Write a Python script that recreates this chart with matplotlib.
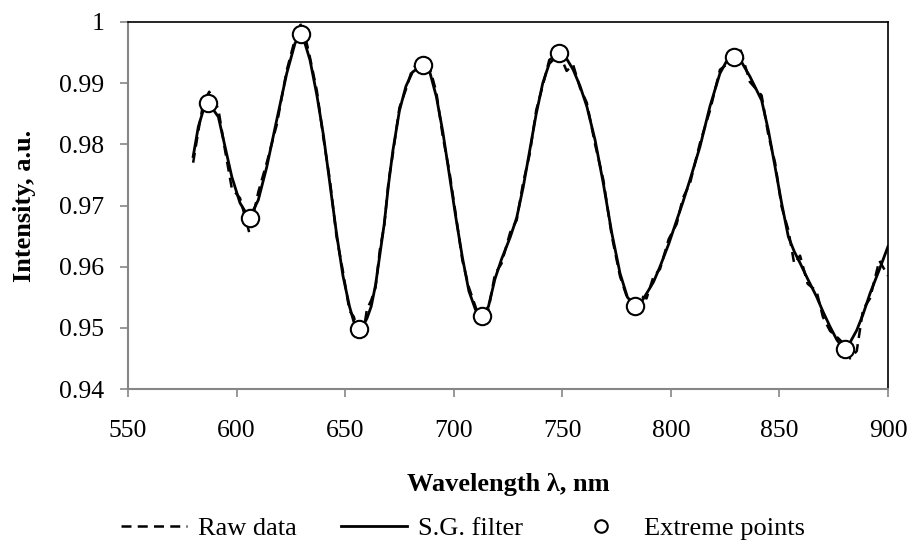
import matplotlib
matplotlib.use("Agg")
import matplotlib.pyplot as plt

# wavelength grid (nm)
wavelength = [580, 582.4, 584.7, 587.4, 591.6, 594.7, 597.8, 601.6, 605.9, 610.0,
              613.9, 618.5, 623.1, 626.9, 629.2, 631.5, 633.8, 637, 640, 643,
              646, 649, 652, 654, 656.3, 658, 660, 662, 664, 666,
              668, 670, 672, 675, 678, 681, 685.7, 689, 692, 695,
              698, 701, 704, 707, 710, 712.9, 716, 719, 722, 726,
              729, 732, 735, 738, 741, 744, 748.5, 752, 755, 758.2,
              761.3, 765.1, 768.9, 772.8, 776.6, 780, 783.8, 786, 788.8, 792,
              795, 799, 802.7, 805.5, 808.8, 813.4, 818, 822.6, 825.5, 828.8,
              832, 836.4, 841.8, 844.9, 848, 851, 854.1, 856.8, 859.5, 863,
              867.1, 870, 873.3, 876.5, 879.4, 882.5, 885.6, 888.5, 891.7, 896, 900]

raw_data = [0.9770, 0.9822, 0.9868, 0.9886, 0.9858, 0.9790, 0.9728, 0.9712, 0.9655, 0.9722,
            0.9770, 0.9832, 0.9921, 0.9972, 0.9998, 0.9978, 0.9942, 0.9887, 0.9810, 0.9741,
            0.9650, 0.9592, 0.9528, 0.9518, 0.9490, 0.9482, 0.9530, 0.9545, 0.9566, 0.9628,
            0.9667, 0.9740, 0.9785, 0.9860, 0.9890, 0.9924, 0.9938, 0.9925, 0.9885, 0.9812,
            0.9756, 0.9684, 0.9610, 0.9566, 0.9535, 0.9505, 0.9530, 0.9588, 0.9605, 0.9656,
            0.9676, 0.9738, 0.9784, 0.9856, 0.9896, 0.9938, 0.9950, 0.9920, 0.9930, 0.9892,
            0.9868, 0.9800, 0.9742, 0.9650, 0.9584, 0.9548, 0.9540, 0.9552, 0.9548, 0.9584,
            0.9596, 0.9645, 0.9670, 0.9712, 0.9736, 0.9802, 0.9855, 0.9922, 0.9930, 0.9948,
            0.9955, 0.9902, 0.9880, 0.9815, 0.9770, 0.9698, 0.9660, 0.9605, 0.9618, 0.9572,
            0.9560, 0.9518, 0.9495, 0.9485, 0.9475, 0.9450, 0.9462, 0.9530, 0.9548, 0.9610, 0.9585]

sg_filter = [0.9780, 0.9829, 0.9856, 0.9866, 0.9845, 0.9796, 0.9747, 0.9704, 0.9679, 0.9709,
             0.9763, 0.9840, 0.9916, 0.9965, 0.9979, 0.9965, 0.9938, 0.9880, 0.9815, 0.9735,
             0.9655, 0.9585, 0.9535, 0.9510, 0.9497, 0.9502, 0.9515, 0.9535, 0.9570, 0.9620,
             0.9670, 0.9735, 0.9790, 0.9855, 0.9895, 0.9918, 0.9930, 0.9918, 0.9878, 0.9820,
             0.9750, 0.9680, 0.9615, 0.9560, 0.9530, 0.9518, 0.9535, 0.9580, 0.9612, 0.9648,
             0.9680, 0.9730, 0.9790, 0.9850, 0.9900, 0.9932, 0.9948, 0.9940, 0.9922, 0.9895,
             0.9862, 0.9807, 0.9736, 0.9655, 0.9589, 0.9550, 0.9535, 0.9540, 0.9556, 0.9575,
             0.9600, 0.9637, 0.9676, 0.9705, 0.9742, 0.9796, 0.9862, 0.9916, 0.9935, 0.9943,
             0.9938, 0.9911, 0.9872, 0.9823, 0.9763, 0.9704, 0.9649, 0.9625, 0.9606, 0.9580,
             0.9551, 0.9527, 0.9502, 0.9480, 0.9467, 0.9476, 0.9496, 0.9522, 0.9556, 0.9595, 0.9633]

extreme_x = [587, 606, 629.5, 656.5, 686, 713, 748.5, 783.5, 829, 880]
extreme_y = [0.9867, 0.968, 0.998, 0.9498, 0.993, 0.952, 0.995, 0.9536, 0.9942, 0.9466]

x_ticks = [550, 600, 650, 700, 750, 800, 850, 900]
y_ticks = [0.94, 0.95, 0.96, 0.97, 0.98, 0.99, 1.0]
y_labels = ["0.94", "0.95", "0.96", "0.97", "0.98", "0.99", "1"]

plt.rcParams['font.family'] = ['Liberation Serif', 'DejaVu Serif']
TICK_FS = 18.5
LABEL_FS = 19

fig = plt.figure(figsize=(9.12, 5.41), dpi=100)
ax = fig.add_axes([128 / 912, 1 - 389 / 541, 760 / 912, 367 / 541])

ax.plot(wavelength, raw_data, color='black', lw=1.8, dashes=(4, 2.5), label='Raw data', zorder=2)
ax.plot(wavelength, sg_filter, color='black', lw=2.0, label='S.G. filter', zorder=3)
ax.plot(extreme_x, extreme_y, 'o', ms=12.5, mfc='white', mec='black', mew=1.5,
        label='Extreme points', zorder=4)

ax.set_xlim(550, 900)
ax.set_ylim(0.94, 1.0)
ax.set_xticks(x_ticks)
ax.set_yticks(y_ticks)
ax.set_yticklabels(y_labels)
ax.tick_params(direction='out', length=6, width=1.2, color='#868686',
               labelsize=TICK_FS, labelcolor='black')
ax.tick_params(axis='x', pad=16)
ax.tick_params(axis='y', pad=11)

for side in ['left', 'bottom']:
    ax.spines[side].set_color('#868686')
    ax.spines[side].set_linewidth(1.5)
for side in ['top', 'right']:
    ax.spines[side].set_color('black')
    ax.spines[side].set_linewidth(1.2)

ax.set_xlabel('Wavelength λ, nm', fontsize=LABEL_FS, fontweight='bold', va='center')
ax.xaxis.set_label_coords(0.5, (389 - 484) / 367)
ax.set_ylabel('Intensity, a.u.', fontsize=LABEL_FS, fontweight='bold', va='center', ha='center')
ax.yaxis.set_label_coords((25 - 128) / 760, 0.5)

fig.legend(loc='center', bbox_to_anchor=(0.508, 1 - 528 / 541), ncol=3, frameon=False,
           fontsize=LABEL_FS, handlelength=2.5, handletextpad=0.4, columnspacing=1.7,
           markerscale=0.72)

fig.savefig('out.png', dpi=100)
